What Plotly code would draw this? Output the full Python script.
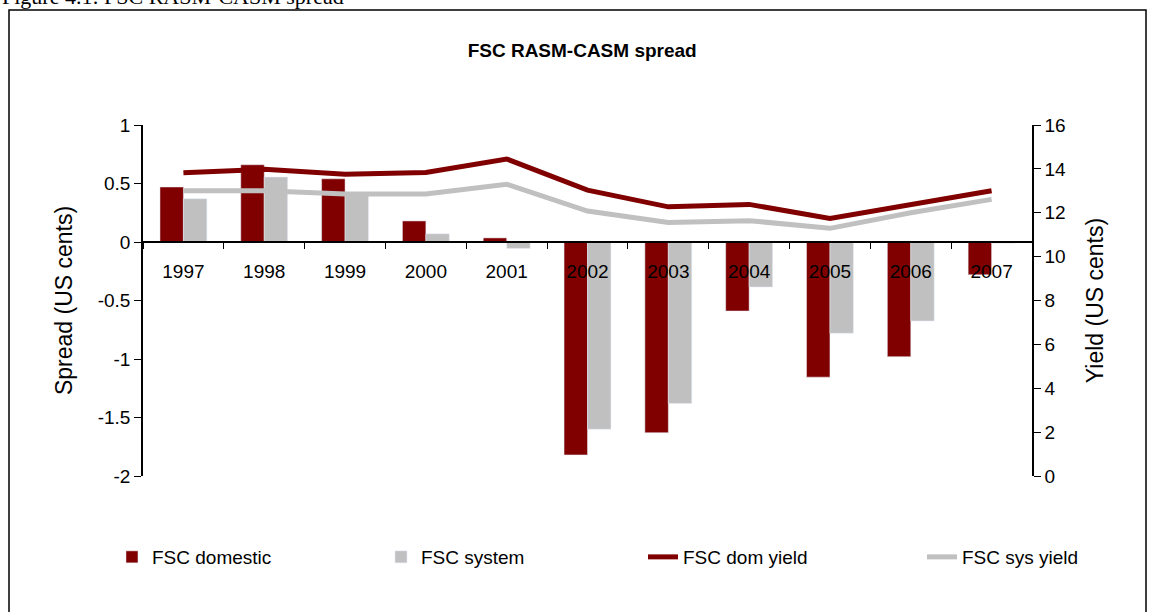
import plotly.graph_objects as go

# valores
anos = ["1997", "1998", "1999", "2000", "2001", "2002", "2003", "2004", "2005", "2006", "2007"]
fsc_domestic = [0.47, 0.66, 0.54, 0.18, 0.035, -1.82, -1.63, -0.59, -1.155, -0.98, -0.28]
fsc_system = [0.37, 0.555, 0.42, 0.07, -0.055, -1.60, -1.38, -0.385, -0.78, -0.675, -0.01]
fsc_dom_yield = [13.82, 13.98, 13.76, 13.84, 14.45, 13.03, 12.27, 12.38, 11.74, 12.37, 13.0]
fsc_sys_yield = [13.0, 13.0, 12.85, 12.85, 13.3, 12.08, 11.56, 11.64, 11.29, 12.0, 12.61]

spread_ticks = [1, 0.5, 0, -0.5, -1, -1.5, -2]
spread_labels = ["1", "0.5", "0", "-0.5", "-1", "-1.5", "-2"]

MARROM = "#800000"
CINZA = "#C0C0C0"
FONTE = "Liberation Sans, Arial, sans-serif"

fig = go.Figure()
fig.add_trace(go.Bar(x=anos, y=fsc_domestic, name="FSC domestic", marker_color=MARROM))
fig.add_trace(go.Bar(x=anos, y=fsc_system, name="FSC system", marker_color=CINZA))
fig.add_trace(go.Scatter(x=anos, y=fsc_dom_yield, name="FSC dom yield", mode="lines",
                         line=dict(color=MARROM, width=5), yaxis="y2", legend="legend2"))
fig.add_trace(go.Scatter(x=anos, y=fsc_sys_yield, name="FSC sys yield", mode="lines",
                         line=dict(color=CINZA, width=5), yaxis="y2", legend="legend2"))

leg_base = dict(orientation="h", y=-0.2308, xanchor="left", yanchor="middle",
                entrywidthmode="pixels", traceorder="normal",
                bgcolor="rgba(0,0,0,0)",
                font=dict(family=FONTE, size=19))

fig.update_layout(
    width=1149, height=612,
    margin=dict(l=143, r=117, t=125, b=136, autoexpand=False),
    paper_bgcolor="white", plot_bgcolor="white",
    font=dict(family=FONTE, size=19, color="black"),
    barmode="group", bargap=0.42, bargroupgap=0,
    title=dict(text="<b>FSC RASM-CASM spread</b>", x=0.494, xref="paper",
               y=1 - 50 / 612, yanchor="middle", xanchor="center",
               font=dict(family=FONTE, size=19)),
    xaxis=dict(type="category", anchor="free", position=2 / 3,
               showline=True, linecolor="black", linewidth=1.5,
               ticks="outside", tickson="boundaries", ticklen=6, tickcolor="black",
               ticklabelstandoff=12, showgrid=False),
    yaxis=dict(range=[-2, 1], tickvals=spread_ticks, ticktext=spread_labels,
               showline=True, linecolor="black", linewidth=1.5,
               ticks="outside", ticklen=7, tickcolor="black",
               showgrid=False, zeroline=False,
               title=dict(text="Spread (US cents)", standoff=19)),
    yaxis2=dict(range=[0, 16], dtick=2, overlaying="y", side="right",
                showline=True, linecolor="black", linewidth=1.5,
                ticks="outside", ticklen=7, tickcolor="black",
                showgrid=False, zeroline=False,
                title=dict(text="Yield (US cents)", standoff=22)),
    legend=dict(leg_base, x=-0.0349, entrywidth=224),
    legend2=dict(leg_base, x=0.5624, entrywidth=234),
    showlegend=True,
)

# moldura do gráfico
fig.add_shape(type="rect", xref="paper", yref="paper",
              x0=(9 - 143) / 889, x1=(1146 - 143) / 889,
              y0=(476 - 10) / 351, y1=-0.7,
              line=dict(color="black", width=1.5), fillcolor="rgba(0,0,0,0)")

# legenda da figura (cortada no topo)
fig.add_annotation(text="Figure 4.1: FSC RASM-CASM spread", xref="paper", yref="paper",
                   x=(0 - 143) / 889, y=(476 - 11) / 351, xanchor="left", yanchor="bottom",
                   showarrow=False, font=dict(family="Liberation Serif, Times New Roman, serif", size=22))

fig.write_html("out.html", config={"displayModeBar": False},
               post_script="document.body.style.margin = '0';")
